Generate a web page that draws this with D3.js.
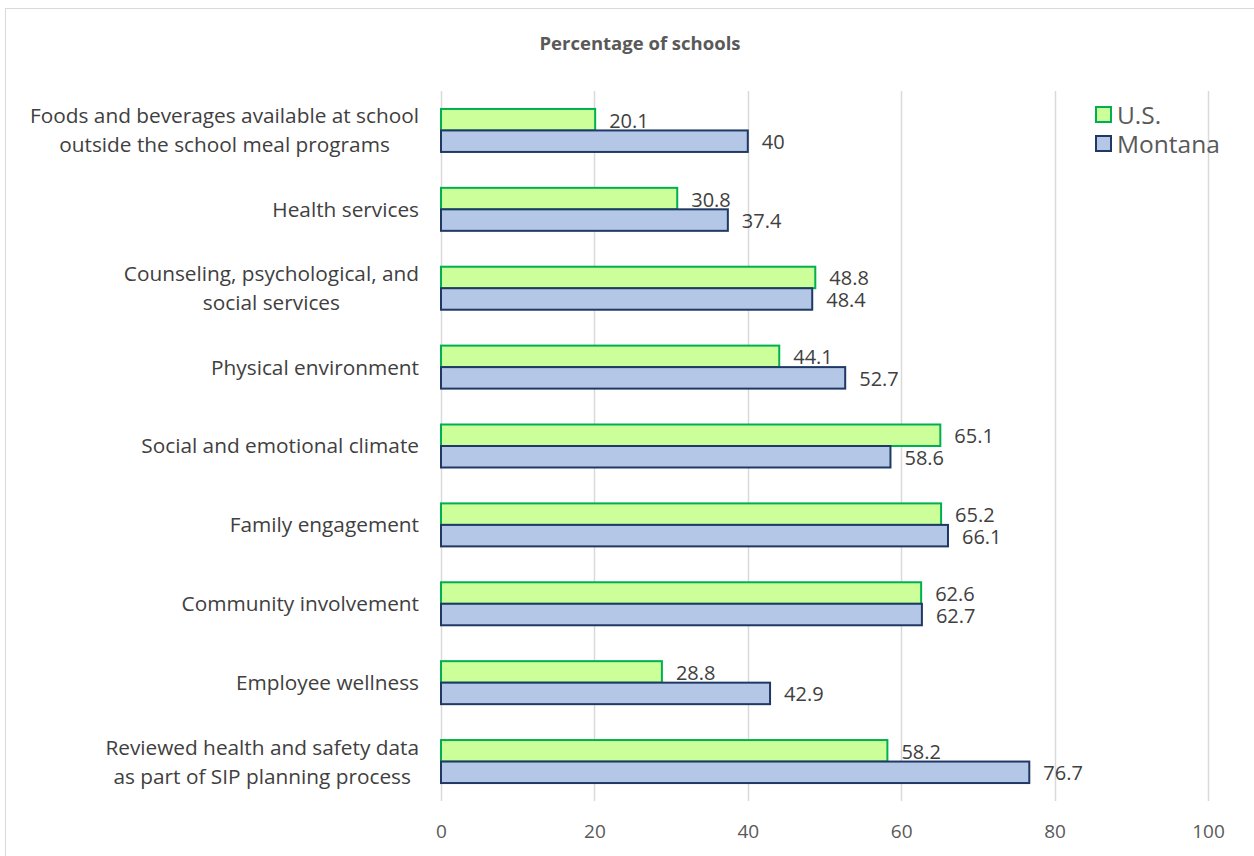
<!DOCTYPE html>
<html>
<head>
<meta charset="utf-8">
<script src="https://cdn.jsdelivr.net/npm/d3@7"></script>
<style>
  body { margin: 0; background: #fff; }
  text { font-family: "Open Sans", sans-serif; }
</style>
</head>
<body>
<div id="chart"></div>
<script>
const categories = [
    'Foods and beverages available at school|outside the school meal programs',
    'Health services',
    'Counseling, psychological, and|social services',
    'Physical environment',
    'Social and emotional climate',
    'Family engagement',
    'Community involvement',
    'Employee wellness',
    'Reviewed health and safety data|as part of SIP planning process'
];
const seriesNames = ['U.S.', 'Montana'];
const usValues = [20.1, 30.8, 48.8, 44.1, 65.1, 65.2, 62.6, 28.8, 58.2];
const montanaValues = [40, 37.4, 48.4, 52.7, 58.6, 66.1, 62.7, 42.9, 76.7];
const xTicks = [0, 20, 40, 60, 80, 100];

const colors = {
    'U.S.': { fill: '#ccff99', stroke: '#00b050' },
    'Montana': { fill: '#b4c7e7', stroke: '#1f3864' }
};

const width = 1254, height = 856;
const svg = d3.select('#chart').append('svg')
    .attr('width', width)
    .attr('height', height);

// outer chart border
svg.append('rect')
    .attr('x', 5.5).attr('y', 8.5)
    .attr('width', width + 10).attr('height', height + 10)
    .attr('fill', 'none')
    .attr('stroke', '#d9d9d9');

const x = d3.scaleLinear().domain([0, 100]).range([441, 1208]);
const y0 = d3.scaleBand().domain(categories).range([91, 801])
    .paddingInner(0.455).paddingOuter(0.2275);
const y1 = d3.scaleBand().domain(seriesNames).range([0, y0.bandwidth()]);

// title
svg.append('text')
    .attr('x', 640).attr('y', 50)
    .attr('text-anchor', 'middle')
    .attr('font-size', 18.5)
    .attr('font-weight', 'bold')
    .attr('fill', '#595959')
    .text('Percentage of schools');

// gridlines
svg.append('g')
    .selectAll('line')
    .data(xTicks)
    .enter().append('line')
    .attr('x1', d => Math.round(x(d)) + 0.5)
    .attr('x2', d => Math.round(x(d)) + 0.5)
    .attr('y1', 91).attr('y2', 801)
    .attr('stroke', '#d9d9d9')
    .attr('stroke-width', 1.5);

// x axis labels
const xAxis = svg.append('g')
    .attr('transform', 'translate(0,801)')
    .call(d3.axisBottom(x).tickValues(xTicks).tickSize(0).tickPadding(24));
xAxis.select('.domain').remove();
xAxis.selectAll('text')
    .attr('font-family', '"Open Sans", sans-serif')
    .attr('font-size', 19)
    .attr('fill', '#595959');

const rows = categories.map((c, i) => ({
    cat: c,
    vals: [
        { name: 'U.S.', value: usValues[i] },
        { name: 'Montana', value: montanaValues[i] }
    ]
}));

const group = svg.append('g')
    .selectAll('g')
    .data(rows)
    .enter().append('g')
    .attr('transform', d => `translate(0,${y0(d.cat)})`);

group.selectAll('rect')
    .data(d => d.vals)
    .enter().append('rect')
    .attr('x', x(0))
    .attr('y', d => y1(d.name))
    .attr('width', d => x(d.value) - x(0))
    .attr('height', y1.bandwidth())
    .attr('fill', d => colors[d.name].fill)
    .attr('stroke', d => colors[d.name].stroke)
    .attr('stroke-width', 2);

group.selectAll('text.val')
    .data(d => d.vals)
    .enter().append('text')
    .attr('class', 'val')
    .attr('x', d => x(d.value) + 14)
    .attr('y', d => y1(d.name) + y1.bandwidth() / 2 + 1)
    .attr('dy', '0.35em')
    .attr('font-size', 20)
    .attr('fill', '#404040')
    .text(d => d.value);

// category labels, centered lines, right edge near axis
group.each(function(d) {
    const lines = d.cat.split('|');
    const g = d3.select(this);
    const mid = y0.bandwidth() / 2;
    const lh = 29;
    const texts = lines.map((t, i) => g.append('text')
        .attr('y', mid + (i - (lines.length - 1) / 2) * lh)
        .attr('dy', '0.36em')
        .attr('font-size', 20.8)
        .attr('fill', '#404040')
        .attr('text-anchor', 'middle')
        .text(t));
    const maxW = d3.max(texts, t => t.node().getComputedTextLength());
    const cx = 419 - maxW / 2;
    texts.forEach(t => t.attr('x', cx));
});

// legend
const legend = svg.append('g')
    .selectAll('g')
    .data(seriesNames)
    .enter().append('g')
    .attr('transform', (d, i) => `translate(1096,${107 + i * 29})`);

legend.append('rect')
    .attr('width', 15).attr('height', 15)
    .attr('fill', d => colors[d].fill)
    .attr('stroke', d => colors[d].stroke)
    .attr('stroke-width', 2);

legend.append('text')
    .attr('x', 21).attr('y', 8)
    .attr('dy', '0.36em')
    .attr('font-size', 24.5)
    .attr('fill', '#595959')
    .text(d => d);
</script>
</body>
</html>
